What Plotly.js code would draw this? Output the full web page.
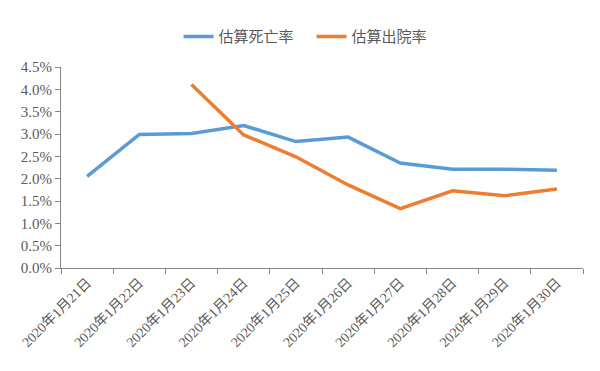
<!DOCTYPE html>
<html>
<head>
<meta charset="utf-8">
<script src="https://cdn.plot.ly/plotly-3.0.1.min.js"></script>
<style>html,body{margin:0;padding:0;background:#fff;}#chart{width:600px;height:371px;}</style>
</head>
<body>
<div id="chart"></div>
<script>
const categories = ["2020年1月21日","2020年1月22日","2020年1月23日","2020年1月24日","2020年1月25日","2020年1月26日","2020年1月27日","2020年1月28日","2020年1月29日","2020年1月30日"];
const deathRate = [2.05, 2.99, 3.01, 3.19, 2.83, 2.93, 2.35, 2.21, 2.21, 2.19];
const dischargeRate = [null, null, 4.11, 2.98, 2.49, 1.86, 1.33, 1.73, 1.62, 1.77];
const seriesNames = ["估算死亡率", "估算出院率"];
const yTicks = [0,0.5,1,1.5,2,2.5,3,3.5,4,4.5];

const serif = "Liberation Serif, Noto Sans CJK SC, serif";

const data = [
  {x: categories, y: deathRate, name: seriesNames[0], type: "scatter", mode: "lines",
   line: {color: "#5B9BD5", width: 3.5}},
  {x: categories, y: dischargeRate, name: seriesNames[1], type: "scatter", mode: "lines",
   line: {color: "#ED7D31", width: 3.5}, connectgaps: false}
];

const layout = {
  width: 600, height: 371,
  margin: {l: 61, r: 17, t: 67, b: 103},
  paper_bgcolor: "#fff", plot_bgcolor: "#fff",
  font: {family: serif},
  showlegend: true,
  legend: {orientation: "h", x: 0.48, xanchor: "center", y: 1.15, yanchor: "middle",
           entrywidth: 88, entrywidthmode: "pixels",
           font: {family: "Noto Sans CJK SC, sans-serif", size: 15, color: "#595959"}},
  xaxis: {type: "category", range: [-0.5, 9.5], showgrid: false, zeroline: false, showline: true,
          linecolor: "#868686", linewidth: 1, ticks: "outside", tickson: "boundaries",
          ticklen: 5, tickcolor: "#868686", tickangle: -45,
          tickfont: {family: serif, size: 14, color: "#595959"}},
  yaxis: {range: [0, 4.5], tickvals: yTicks, ticktext: yTicks.map(v => v.toFixed(1) + "%"),
          showgrid: false, zeroline: false, showline: true, linecolor: "#868686", linewidth: 1,
          ticks: "outside", ticklen: 5, tickcolor: "#868686",
          tickfont: {family: serif, size: 15, color: "#595959"}}
};

Plotly.newPlot("chart", data, layout, {displayModeBar: false, staticPlot: true});
</script>
</body>
</html>
